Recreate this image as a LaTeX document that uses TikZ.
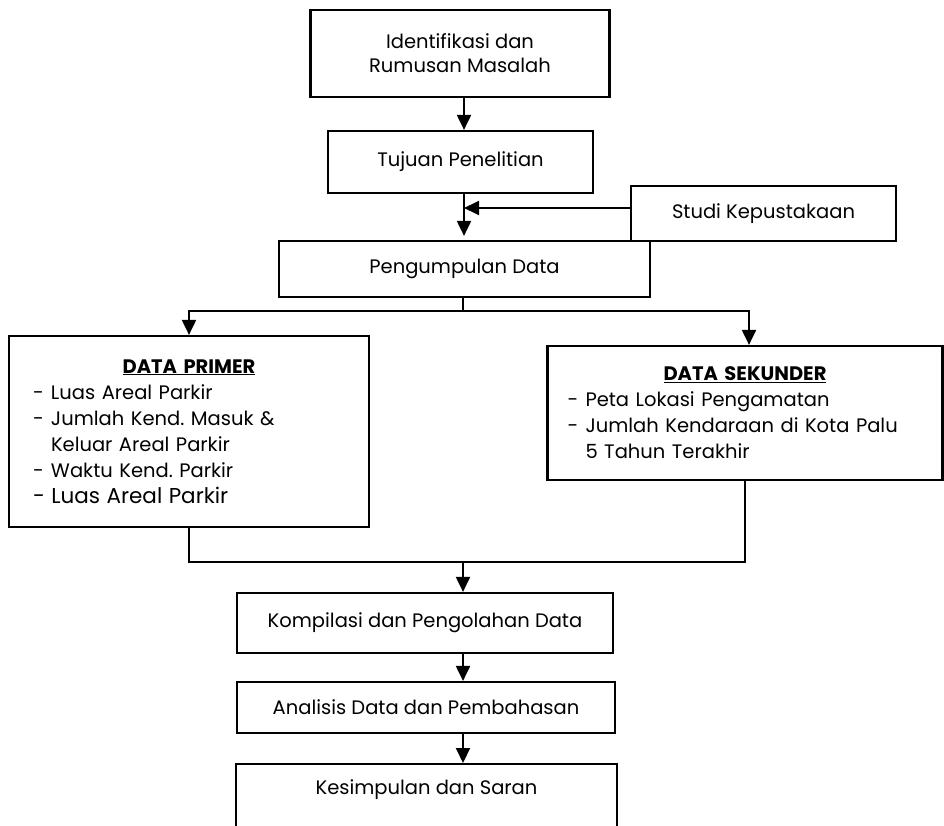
\documentclass[tikz,border=0pt]{standalone}
\usepackage{fontspec}
\setmainfont{Poppins}
\usetikzlibrary{arrows.meta}
\frenchspacing
\newcommand{\judul}[1]{\makebox[\hsize]{\textbf{\underline{#1}}}}
\newcommand{\butir}{\makebox[18pt][l]{-}}

\begin{document}
\begin{tikzpicture}[
      x=1pt, y=-1pt,
      kotak/.style={draw, line width=2.2pt, inner sep=0pt, align=center,
        font=\fontsize{19.5}{24}\selectfont},
      daftar/.style={kotak, align=left, text width=#1,
        font=\fontsize{19.5}{26}\selectfont},
      panah/.style={line width=2pt, -{Triangle[width=14pt,length=15pt]}},
      garis/.style={line width=2pt}
      ]
      \clip (0,0) rectangle (944,826);
      \node[kotak, minimum width=299, minimum height=87] (identifikasi) at (460,53.5) {Identifikasi dan\\Rumusan Masalah};
      \node[kotak, minimum width=265, minimum height=62] (tujuan) at (460.5,162) {Tujuan Penelitian};
      \node[kotak, minimum width=265, minimum height=55] (studi) at (763.5,213.5) {Studi Kepustakaan};
      \node[kotak, minimum width=371, minimum height=56] (pengumpulan) at (464.5,269) {Pengumpulan Data};
      \node[daftar=312pt, minimum width=360, minimum height=191] (primer) at (189,431.5) {%
        \judul{DATA PRIMER}\\
        \butir Luas Areal Parkir\\
        \butir Jumlah Kend. Masuk \&\\
        \hspace*{18pt}Keluar Areal Parkir\\
        \butir Waktu Kend. Parkir\\
        {\fontsize{21.5}{26}\selectfont - Luas Areal Parkir}};
      \node[daftar=355pt, minimum width=395, minimum height=134] (sekunder) at (745,413) {%
        \judul{DATA SEKUNDER}\\
        \butir Peta Lokasi Pengamatan\\
        \butir Jumlah Kendaraan di Kota Palu\\
        \hspace*{18pt}5 Tahun Terakhir};
      \node[kotak, minimum width=376, minimum height=60] (kompilasi) at (425,623) {Kompilasi dan Pengolahan Data};
      \node[kotak, minimum width=378, minimum height=51] (analisis) at (426,707.5) {Analisis Data dan Pembahasan};
      \node[kotak, minimum width=381, minimum height=120, anchor=north] (kesimpulan) at (426.5,763) {};
      \node[font=\fontsize{19.5}{24}\selectfont] (kesimpulanteks) at (426.5,790) {Kesimpulan dan Saran};
      % alur utama
      \coordinate (poros) at (464,0);
      \coordinate (cabang) at (463,311);
      \coordinate (gabung) at (463,562);
      \draw[panah] (identifikasi.south -| poros) -- (tujuan.north -| poros);
      \draw[panah, shorten >=4pt] (tujuan.south -| poros) -- (pengumpulan.north -| poros);
      \draw[panah] ([yshift=5.5pt]studi.west) -- ([yshift=5.5pt]studi.west -| poros);
      \draw[garis] (pengumpulan.south -| cabang) -- (cabang);
      \draw[panah] (cabang) -| (primer.north);
      \draw[panah] (cabang) -| ([xshift=4pt]sekunder.north);
      \draw[garis] (primer.south) |- (gabung) -| (sekunder.south);
      \draw[panah] (gabung) -- (gabung |- kompilasi.north);
      \draw[panah] (kompilasi.south -| gabung) -- (analisis.north -| gabung);
      \draw[panah] (analisis.south -| gabung) -- (kesimpulan.north -| gabung);
    \end{tikzpicture}
\end{document}
